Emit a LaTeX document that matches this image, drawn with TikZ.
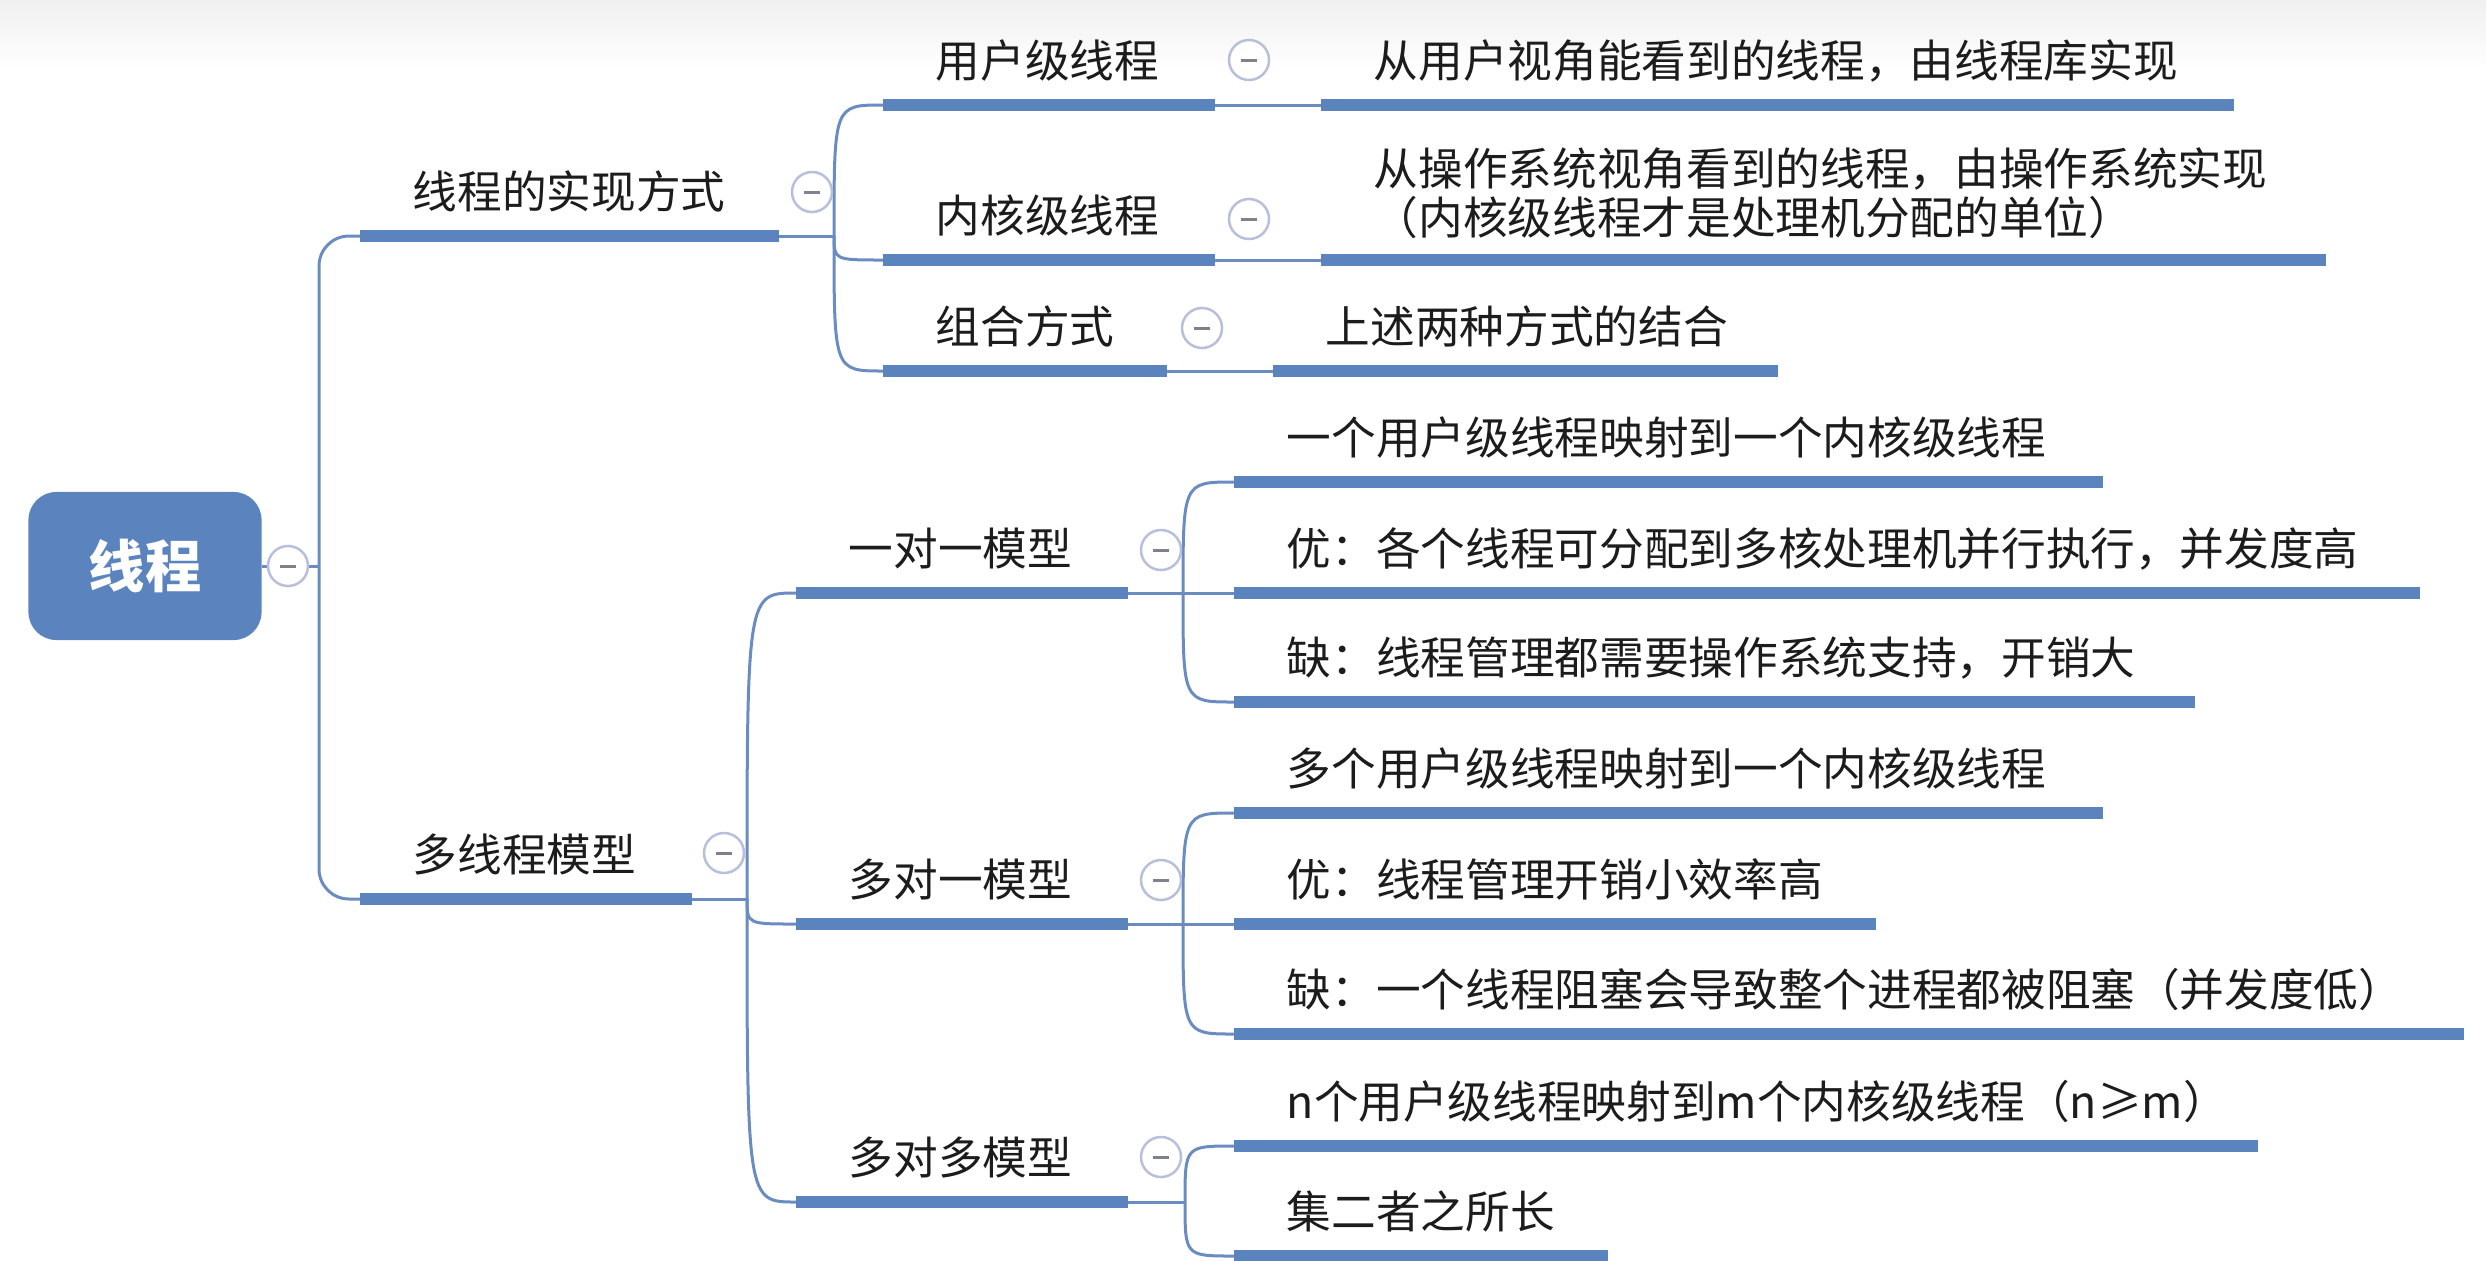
\documentclass[tikz,border=0pt]{standalone}
\usepackage{fontspec}
\usepackage{tikz}
\newfontfamily\cjk{Noto Sans CJK SC}
\definecolor{mapblue}{HTML}{5B84BE}
\definecolor{linkblue}{HTML}{6A8CC0}
\definecolor{foldring}{HTML}{B7BFDC}
\definecolor{foldbar}{HTML}{80808F}
\definecolor{inktext}{HTML}{1C1C1C}

\begin{document}
\begin{tikzpicture}[x=0.01cm, y=-0.01cm,
    root/.style={rounded corners=0.28cm, fill=mapblue, text=white, minimum width=2.33cm,
      minimum height=1.48cm, font=\cjk\bfseries\fontsize{16}{19}\selectfont},
    topic/.style={anchor=south west, inner xsep=0.52cm, inner ysep=0.27cm, text depth=0pt,
      text width=#1, align=left, text=inktext, font=\cjk\fontsize{12.7}{13.9}\selectfont},
    bar/.style={draw=mapblue, line width=0.12cm},
    link/.style={draw=linkblue, line width=0.03cm},
    fold/.style={circle, draw=foldring, fill=white, line width=0.025cm, minimum size=0.4cm,
      inner sep=0pt, path picture={\draw[foldbar, line width=0.03cm]
        ([xshift=-0.08cm]path picture bounding box.center) --
        ([xshift=0.08cm]path picture bounding box.center);}}
  ]
  \shade[top color=black!6, bottom color=white] (0,0) rectangle (2486,70);
  \useasboundingbox (0,0) rectangle (2486,1260);

  \node[root] (root) at (145,566) {线程};

  % first level
  \node[topic=3.13cm] (impl) at (360,236) {线程的实现方式};
  \node[topic=2.26cm] (model) at (360,899) {多线程模型};

  % ways of implementing
  \node[topic=2.26cm] (ult) at (883,105) {用户级线程};
  \node[topic=2.26cm] (klt) at (883,260) {内核级线程};
  \node[topic=1.78cm] (combo) at (883,371) {组合方式};
  \node[topic=8.07cm] (ultd) at (1321,105) {从用户视角能看到的线程，由线程库实现};
  \node[topic=8.99cm, text depth=0.49cm, inner ysep=0.25cm] (kltd) at (1321,260)
    {从操作系统视角看到的线程，由操作系统实现\\（内核级线程才是处理机分配的单位）};
  \node[topic=3.99cm] (combod) at (1273,371) {上述两种方式的结合};

  % models
  \node[topic=2.26cm] (oto) at (796,593) {一对一模型};
  \node[topic=2.26cm] (mto) at (796,924) {多对一模型};
  \node[topic=2.26cm] (mtm) at (796,1202) {多对多模型};
  \node[topic=7.63cm] (otomap) at (1234,482) {一个用户级线程映射到一个内核级线程};
  \node[topic=10.80cm] (otopro) at (1234,593) {优：各个线程可分配到多核处理机并行执行，并发度高};
  \node[topic=8.55cm] (otocon) at (1234,702) {缺：线程管理都需要操作系统支持，开销大};
  \node[topic=7.63cm] (mtomap) at (1234,813) {多个用户级线程映射到一个内核级线程};
  \node[topic=5.36cm] (mtopro) at (1234,924) {优：线程管理开销小效率高};
  \node[topic=11.24cm] (mtocon) at (1234,1034) {缺：一个线程阻塞会导致整个进程都被阻塞（并发度低）};
  \node[topic=9.18cm] (mtmmap) at (1234,1146) {n个用户级线程映射到m个内核级线程（n≥m）};
  \node[topic=2.68cm] (mtmpro) at (1234,1256) {集二者之所长};

  \coordinate (trunk) at (319,566);
  \coordinate (implj) at (834,236);
  \coordinate (modelj) at (747,899);
  \coordinate (otoj) at (1183,593);
  \coordinate (mtoj) at (1183,924);
  \coordinate (mtmj) at (1185,1202);

  % connectors
  \draw[link] (root) -- (trunk);
  \draw[link, rounded corners=0.3cm] (trunk) |- (impl.south west);
  \draw[link, rounded corners=0.3cm] (trunk) |- (model.south west);
  \draw[link] (impl.south east) -- (implj);
  \draw[link] (model.south east) -- (modelj);
  \foreach \c in {ult,klt,combo}
    \draw[link] (implj) .. controls (implj |- \c.south west) .. (\c.south west);
  \foreach \c in {oto,mto,mtm}
    \draw[link] (modelj) .. controls (modelj |- \c.south west) .. (\c.south west);
  \draw[link] (ult.south east) -- (ultd.south west);
  \draw[link] (klt.south east) -- (kltd.south west);
  \draw[link] (combo.south east) -- (combod.south west);
  \draw[link] (oto.south east) -- (otoj);
  \draw[link] (mto.south east) -- (mtoj);
  \draw[link] (mtm.south east) -- (mtmj);
  \foreach \c in {otomap,otopro,otocon}
    \draw[link] (otoj) .. controls (otoj |- \c.south west) .. (\c.south west);
  \foreach \c in {mtomap,mtopro,mtocon}
    \draw[link] (mtoj) .. controls (mtoj |- \c.south west) .. (\c.south west);
  \foreach \c in {mtmmap,mtmpro}
    \draw[link] (mtmj) .. controls (mtmj |- \c.south west) .. (\c.south west);

  % underlines
  \foreach \c in {impl,model,ult,klt,combo,ultd,kltd,combod,oto,mto,mtm,
      otomap,otopro,otocon,mtomap,mtopro,mtocon,mtmmap,mtmpro}
    \draw[bar] (\c.south west) -- (\c.south east);

  % fold markers
  \node[fold] (rootf) at (288,566) {};
  \node[fold] (implf) at (812,192) {};
  \node[fold] (modelf) at (724,853) {};
  \node[fold] (ultf) at (1249,60) {};
  \node[fold] (kltf) at (1249,219) {};
  \node[fold] (combof) at (1202,328) {};
  \node[fold] (otof) at (1161,550) {};
  \node[fold] (mtof) at (1161,880) {};
  \node[fold] (mtmf) at (1161,1157) {};
\end{tikzpicture}
\end{document}
